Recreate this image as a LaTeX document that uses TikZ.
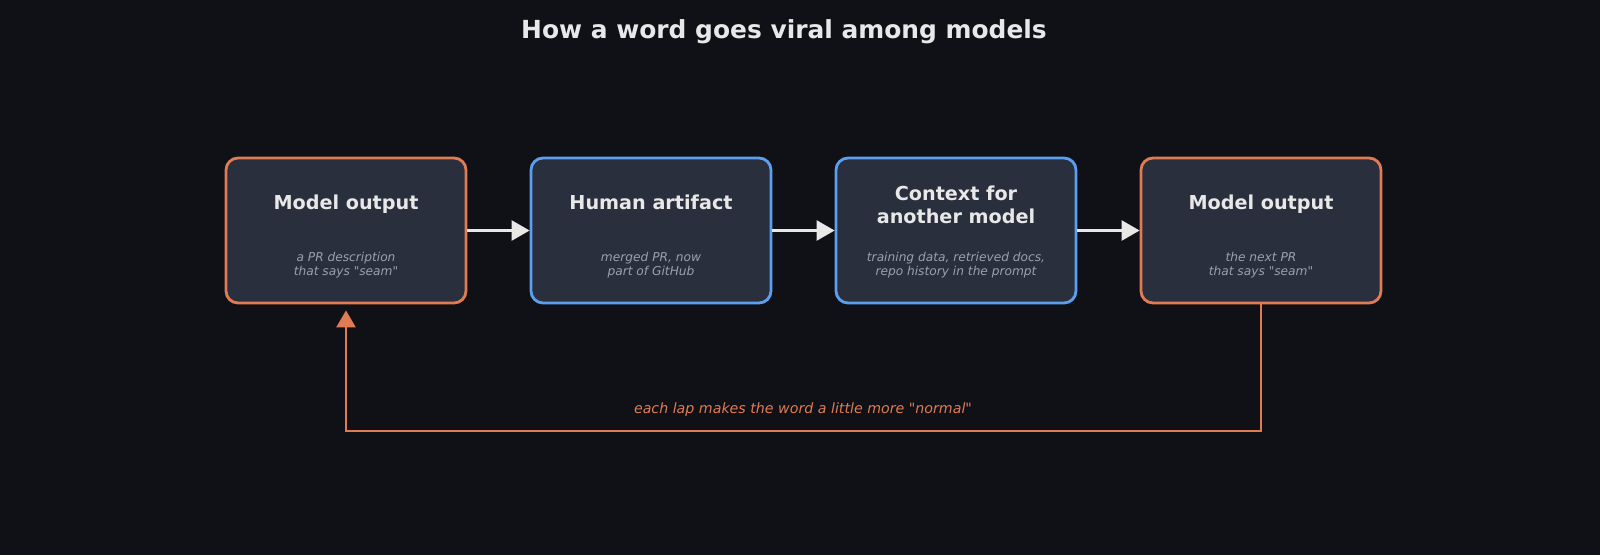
\documentclass[tikz,border=0pt]{standalone}
\usepackage{fontspec}
\setmainfont{DejaVu Sans}[Ligatures=TeXOff]
\usetikzlibrary{arrows.meta,calc}
\definecolor{bgc}{HTML}{0F1117}
\definecolor{boxfill}{HTML}{2A2F3D}
\definecolor{orng}{HTML}{E07B53}
\definecolor{blu}{HTML}{5B9FF0}
\definecolor{wht}{HTML}{E8E8E8}
\definecolor{gry}{HTML}{9AA0AC}
\tikzset{
  card/.style={draw, line width=2.8pt, fill=boxfill, rounded corners=12pt,
    minimum width=240pt, minimum height=145pt, inner sep=0pt},
  ocard/.style={card, draw=orng},
  bcard/.style={card, draw=blu},
  ttl/.style={text=wht, font=\bfseries\fontsize{19.2}{23.5}\selectfont, align=center, inner sep=0pt},
  sub/.style={text=gry, font=\itshape\fontsize{12.2}{14}\selectfont, align=center, inner sep=0pt},
  flow/.style={draw=wht, line width=2.6pt, -{Triangle[length=18pt,width=20pt]}},
  lapline/.style={draw=orng, line width=2.6pt, -{Triangle[length=17pt,width=19pt]}, shorten >=6pt},
}
\begin{document}
\begin{tikzpicture}[x=1pt,y=-1pt]
\fill[bgc] (0,0) rectangle (1600,555);
\useasboundingbox (0,0) rectangle (1600,555);
\node[text=wht, font=\bfseries\fontsize{24.9}{28}\selectfont, inner sep=0pt] (title) at (784,32) {How a word goes viral among models};
\node[ocard] (b1) at (346,230.5) {};
\node[bcard] (b2) at (651,230.5) {};
\node[bcard] (b3) at (956,230.5) {};
\node[ocard] (b4) at (1261,230.5) {};
\node[ttl, anchor=base] (t1) at (346,209.7) {Model output};
\node[ttl, anchor=base] (t2) at (651,209.7) {Human artifact};
\node[ttl] (t3) at (956,205) {Context for\\another model};
\node[ttl, anchor=base] (t4) at (1261,209.7) {Model output};
\node[sub] (s1) at (346,265) {a PR description\\that says "seam"};
\node[sub] (s2) at (651,265) {merged PR, now\\part of GitHub};
\node[sub] (s3) at (956,265) {training data, retrieved docs,\\repo history in the prompt};
\node[sub] (s4) at (1261,265) {the next PR\\that says "seam"};
\draw[flow] (b1.east) -- (b2.west);
\draw[flow] (b2.east) -- (b3.west);
\draw[flow] (b3.east) -- (b4.west);
\coordinate (bot) at (803,431);
\draw[lapline] (b4.south) -- (b4.south |- bot) -- (b1.south |- bot) -- (b1.south);
\node[text=orng, font=\itshape\fontsize{14.2}{16}\selectfont, inner sep=0pt] (lap) at (803,410) {each lap makes the word a little more "normal"};
\end{tikzpicture}
\end{document}
